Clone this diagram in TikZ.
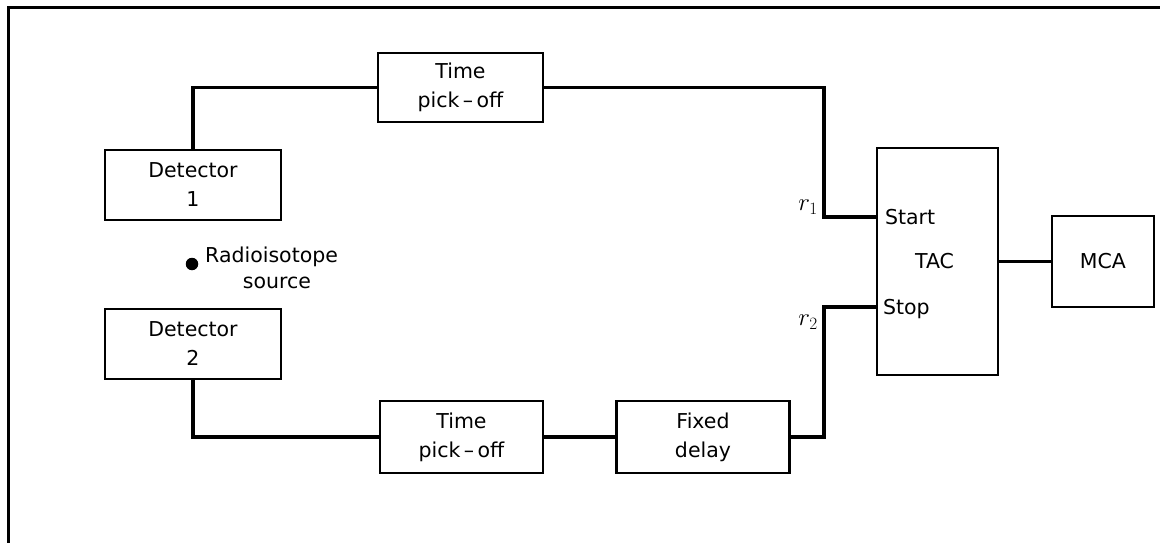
\documentclass[tikz,border=0pt]{standalone}
\usepackage{fontspec}
\setmainfont{DejaVu Sans}
\begin{document}
\begin{tikzpicture}[x=1pt,y=-1pt,
  every node/.style={font=\fontsize{20.5}{29}\selectfont},
  box/.style={draw, line width=2.2pt, inner sep=0pt, align=center},
  wire/.style={line width=3.4pt, line join=miter},
  lbl/.style={inner sep=0pt},
  rlbl/.style={inner sep=0pt, anchor=east, font=\fontsize{25}{25}\selectfont}]
\useasboundingbox (0,0) rectangle (1160,543);
\draw[line width=3.4pt] (8.5,543) -- (8.5,7.5) -- (1160,7.5);
% boxes
\node[box, minimum width=165pt, minimum height=69pt] (tpo1) at (460.5,87.5) {Time\\pick\,--\,off};
\node[box, minimum width=176pt, minimum height=70pt] (det1) at (193,185) {Detector\\1};
\node[box, minimum width=176pt, minimum height=70pt] (det2) at (193,344) {Detector\\2};
\node[box, minimum width=163pt, minimum height=72pt] (tpo2) at (461.5,437) {Time\\pick\,--\,off};
\node[box, minimum width=173pt, minimum height=72pt] (fd) at (703,437) {Fixed\\delay};
\node[box, minimum width=121pt, minimum height=227pt] (tac) at (937.5,261.5) {\hspace*{-6pt}TAC};
\node[box, minimum width=102pt, minimum height=91pt] (mca) at (1103,261.5) {MCA};
% source
\node[circle, fill, inner sep=0pt, minimum size=12.5pt] (src) at (192,264) {};
\node[lbl, anchor=west] (radio) at (205,257) {Radioisotope};
\node[lbl] (srclbl) at (277,283) {source};
% inputs of TAC
\coordinate (startin) at ([yshift=44.5pt]tac.west);
\coordinate (stopin) at ([yshift=-45.5pt]tac.west);
\coordinate (bend) at (824,0);
\node[lbl, anchor=west] (startlbl) at ([xshift=9pt]startin) {Start};
\node[lbl, anchor=west] (stoplbl) at ([xshift=7pt,yshift=-2pt]stopin) {Stop};
\node[rlbl] (r1) at (818,207) {$r_1$};
\node[rlbl] (r2) at (818,322) {$r_2$};
% connectors
\draw[wire] (det1.north) |- (tpo1.west);
\draw[wire] (tpo1.east) -| (bend |- startin) -- (startin);
\draw[wire] (det2.south) |- (tpo2.west);
\draw[wire] (tpo2.east) -- (fd.west);
\draw[wire] (fd.east) -| (bend |- stopin) -- (stopin);
\draw[wire] (tac.east) -- (tac.east -| mca.west);
\end{tikzpicture}
\end{document}
